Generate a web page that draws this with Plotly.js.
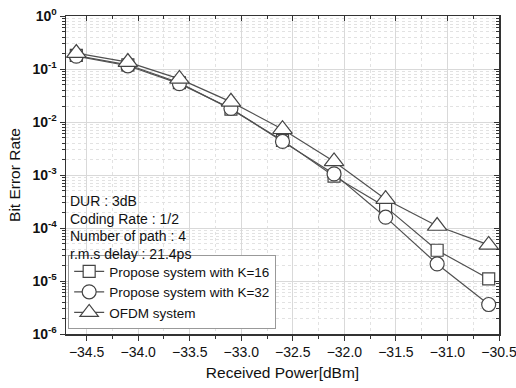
<!DOCTYPE html>
<html><head><meta charset="utf-8">
<script src="https://cdn.plot.ly/plotly-3.0.1.min.js"></script>
<style>html,body{margin:0;padding:0;background:#fff}#chart{width:516px;height:388px}</style>
</head><body><div id="chart"></div>
<script>
const powerDbm = [-34.6, -34.1, -33.6, -33.1, -32.6, -32.1, -31.6, -31.1, -30.6];
const berK16 = [0.18, 0.12, 0.055, 0.0175, 0.0045, 0.00095, 0.00025, 3.8e-5, 1.1e-5];
const berK32 = [0.175, 0.115, 0.053, 0.018, 0.0043, 0.00105, 0.00016, 2.1e-5, 3.6e-6];
const berOfdm = [0.2, 0.135, 0.065, 0.024, 0.0073, 0.0018, 0.00035, 1.09e-4, 4.8e-5];
const seriesNames = ["Propose system with K=16", "Propose system with K=32", "OFDM system"];
const yTickVals = [1, 0.1, 0.01, 0.001, 0.0001, 0.00001, 0.000001];
const yTickText = ["0", "-1", "-2", "-3", "-4", "-5", "-6"].map(e => "<b>10<sup>" + e + "</sup></b>");
const infoLines = ["DUR : 3dB", "Coding Rate : 1/2", "Number of path : 4", "r.m.s delay : 21.4ps"];

const lineCol = "#505050";
const font = "Liberation Sans, Arial, sans-serif";
function tr(y, name, sym, size) {
  return {x: powerDbm, y: y, name: name, type: "scatter", mode: "lines+markers",
    line: {color: lineCol, width: 1.2},
    marker: {symbol: sym, size: size, color: "#ffffff", line: {color: "#444444", width: 1.2}}};
}
const data = [
  tr(berK16, seriesNames[0], "square", 12),
  tr(berK32, seriesNames[1], "circle", 14),
  tr(berOfdm, seriesNames[2], "triangle-up", 17),
  {x: [null], y: [null], xaxis: "x2", yaxis: "y2", showlegend: false, hoverinfo: "skip", type: "scatter", mode: "markers"}
];
const annotations = infoLines.map((t, i) => ({
  text: t, xref: "paper", yref: "paper", x: 0.005, y: 0.4186 - i * 0.0557,
  xanchor: "left", yanchor: "middle", showarrow: false,
  font: {family: font, size: 14, color: "#111"}
}));
const layout = {
  width: 516, height: 388,
  margin: {l: 66, r: 17, t: 16, b: 54},
  paper_bgcolor: "#fff", plot_bgcolor: "#fff",
  font: {family: font, color: "#111"},
  showlegend: true,
  legend: {x: 0.005, y: 0.0157, xanchor: "left", yanchor: "bottom",
    bgcolor: "#fff", bordercolor: "#999", borderwidth: 1,
    font: {family: font, size: 13.5, color: "#111"}, tracegroupgap: 0, itemwidth: 30},
  xaxis: {range: [-34.7, -30.5], tick0: -34.5, dtick: 0.5, tickformat: ".1f", ticklabeloverflow: "allow",
    ticks: "outside", ticklen: 5, tickcolor: "#333", showline: true, linecolor: "#333", linewidth: 1.5,
    showgrid: true, gridcolor: "#d9d9d9", gridwidth: 1, zeroline: false,
    tickfont: {family: font, size: 14, color: "#111"},
    minor: {dtick: 0.25, ticks: "outside", ticklen: 3, tickcolor: "#333", showgrid: true, gridcolor: "#e2e2e2", griddash: "dot"},
    title: {text: "Received Power[dBm]", font: {family: font, size: 15.5, color: "#111"}, standoff: 8}},
  yaxis: {type: "log", range: [-6, 0], tickmode: "array", tickvals: yTickVals, ticktext: yTickText, ticklabeloverflow: "allow",
    ticks: "outside", ticklen: 5, tickcolor: "#333", showline: true, linecolor: "#333", linewidth: 1.5,
    showgrid: true, gridcolor: "#d9d9d9", gridwidth: 1, zeroline: false,
    tickfont: {family: font, size: 14, color: "#111"},
    minor: {dtick: "D1", ticks: "outside", ticklen: 3, tickcolor: "#333", showgrid: true, gridcolor: "#e2e2e2", griddash: "dot"},
    title: {text: "Bit Error Rate", font: {family: font, size: 15.5, color: "#111"}, standoff: 8}},
  xaxis2: {overlaying: "x", side: "top", anchor: "y", range: [-34.7, -30.5], tick0: -34.5, dtick: 0.5,
    ticks: "inside", ticklen: 5, tickcolor: "#333", showticklabels: false, showgrid: false, zeroline: false,
    showline: true, linecolor: "#333", linewidth: 1.5,
    minor: {dtick: 0.25, ticks: "inside", ticklen: 3, tickcolor: "#333", showgrid: false}},
  yaxis2: {overlaying: "y", side: "right", anchor: "x", type: "log", range: [-6, 0], dtick: 1,
    ticks: "inside", ticklen: 5, tickcolor: "#333", showticklabels: false, showgrid: false, zeroline: false,
    showline: true, linecolor: "#333", linewidth: 1.5,
    minor: {dtick: "D1", ticks: "inside", ticklen: 3, tickcolor: "#333", showgrid: false}},
  annotations: annotations
};
Plotly.newPlot("chart", data, layout, {staticPlot: true, displayModeBar: false});
</script></body></html>
